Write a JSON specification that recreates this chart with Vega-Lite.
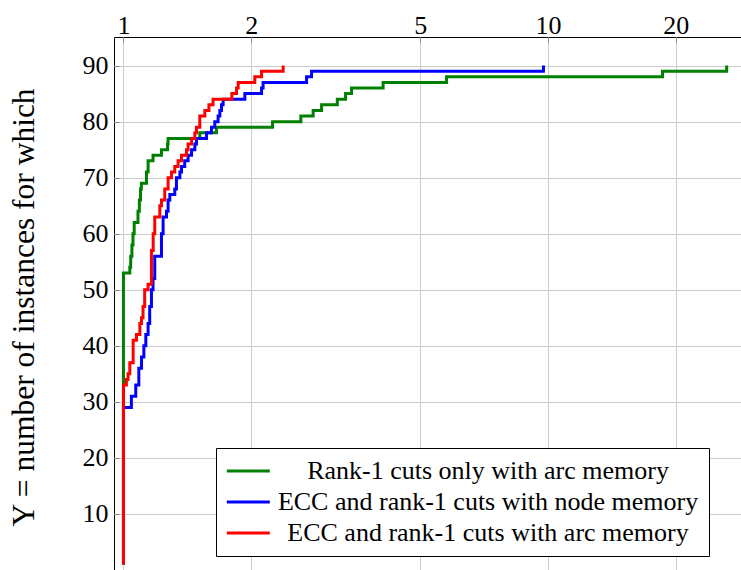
{
  "$schema": "https://vega.github.io/schema/vega-lite/v6.json",
  "width": 627,
  "height": 533,
  "autosize": {"type": "none"},
  "padding": {"left": 114, "top": 37, "right": 0, "bottom": 0},
  "background": "white",
  "config": {
    "view": {"stroke": "#000000", "strokeWidth": 1},
    "font": "serif"
  },
  "data": {
    "values": [
      {"s": "Rank-1 cuts only with arc memory", "x": 1, "y": 1}, {"s": "Rank-1 cuts only with arc memory", "x": 1, "y": 53},
      {"s": "Rank-1 cuts only with arc memory", "x": 1.035, "y": 54}, {"s": "Rank-1 cuts only with arc memory", "x": 1.04, "y": 56},
      {"s": "Rank-1 cuts only with arc memory", "x": 1.047, "y": 58}, {"s": "Rank-1 cuts only with arc memory", "x": 1.053, "y": 60},
      {"s": "Rank-1 cuts only with arc memory", "x": 1.06, "y": 62}, {"s": "Rank-1 cuts only with arc memory", "x": 1.082, "y": 64},
      {"s": "Rank-1 cuts only with arc memory", "x": 1.09, "y": 66}, {"s": "Rank-1 cuts only with arc memory", "x": 1.097, "y": 68},
      {"s": "Rank-1 cuts only with arc memory", "x": 1.102, "y": 69}, {"s": "Rank-1 cuts only with arc memory", "x": 1.133, "y": 71},
      {"s": "Rank-1 cuts only with arc memory", "x": 1.143, "y": 73}, {"s": "Rank-1 cuts only with arc memory", "x": 1.174, "y": 74},
      {"s": "Rank-1 cuts only with arc memory", "x": 1.229, "y": 75}, {"s": "Rank-1 cuts only with arc memory", "x": 1.27, "y": 76},
      {"s": "Rank-1 cuts only with arc memory", "x": 1.274, "y": 77}, {"s": "Rank-1 cuts only with arc memory", "x": 1.513, "y": 78},
      {"s": "Rank-1 cuts only with arc memory", "x": 1.656, "y": 79}, {"s": "Rank-1 cuts only with arc memory", "x": 2.245, "y": 80},
      {"s": "Rank-1 cuts only with arc memory", "x": 2.618, "y": 81}, {"s": "Rank-1 cuts only with arc memory", "x": 2.798, "y": 82},
      {"s": "Rank-1 cuts only with arc memory", "x": 2.929, "y": 83}, {"s": "Rank-1 cuts only with arc memory", "x": 3.19, "y": 84},
      {"s": "Rank-1 cuts only with arc memory", "x": 3.336, "y": 85}, {"s": "Rank-1 cuts only with arc memory", "x": 3.446, "y": 86},
      {"s": "Rank-1 cuts only with arc memory", "x": 4.09, "y": 87}, {"s": "Rank-1 cuts only with arc memory", "x": 5.77, "y": 88},
      {"s": "Rank-1 cuts only with arc memory", "x": 18.62, "y": 89}, {"s": "Rank-1 cuts only with arc memory", "x": 26.37, "y": 90},
      {"s": "ECC and rank-1 cuts with node memory", "x": 1, "y": 1}, {"s": "ECC and rank-1 cuts with node memory", "x": 1, "y": 29},
      {"s": "ECC and rank-1 cuts with node memory", "x": 1.044, "y": 31}, {"s": "ECC and rank-1 cuts with node memory", "x": 1.069, "y": 33},
      {"s": "ECC and rank-1 cuts with node memory", "x": 1.087, "y": 36}, {"s": "ECC and rank-1 cuts with node memory", "x": 1.103, "y": 38},
      {"s": "ECC and rank-1 cuts with node memory", "x": 1.117, "y": 40}, {"s": "ECC and rank-1 cuts with node memory", "x": 1.129, "y": 42},
      {"s": "ECC and rank-1 cuts with node memory", "x": 1.143, "y": 44}, {"s": "ECC and rank-1 cuts with node memory", "x": 1.153, "y": 47},
      {"s": "ECC and rank-1 cuts with node memory", "x": 1.164, "y": 50}, {"s": "ECC and rank-1 cuts with node memory", "x": 1.174, "y": 52},
      {"s": "ECC and rank-1 cuts with node memory", "x": 1.185, "y": 56}, {"s": "ECC and rank-1 cuts with node memory", "x": 1.229, "y": 60},
      {"s": "ECC and rank-1 cuts with node memory", "x": 1.24, "y": 63}, {"s": "ECC and rank-1 cuts with node memory", "x": 1.263, "y": 64},
      {"s": "ECC and rank-1 cuts with node memory", "x": 1.274, "y": 66}, {"s": "ECC and rank-1 cuts with node memory", "x": 1.286, "y": 67},
      {"s": "ECC and rank-1 cuts with node memory", "x": 1.321, "y": 68}, {"s": "ECC and rank-1 cuts with node memory", "x": 1.333, "y": 70},
      {"s": "ECC and rank-1 cuts with node memory", "x": 1.358, "y": 71}, {"s": "ECC and rank-1 cuts with node memory", "x": 1.37, "y": 72},
      {"s": "ECC and rank-1 cuts with node memory", "x": 1.394, "y": 73}, {"s": "ECC and rank-1 cuts with node memory", "x": 1.42, "y": 74},
      {"s": "ECC and rank-1 cuts with node memory", "x": 1.447, "y": 75}, {"s": "ECC and rank-1 cuts with node memory", "x": 1.473, "y": 76},
      {"s": "ECC and rank-1 cuts with node memory", "x": 1.486, "y": 77}, {"s": "ECC and rank-1 cuts with node memory", "x": 1.569, "y": 78},
      {"s": "ECC and rank-1 cuts with node memory", "x": 1.612, "y": 79}, {"s": "ECC and rank-1 cuts with node memory", "x": 1.641, "y": 80},
      {"s": "ECC and rank-1 cuts with node memory", "x": 1.671, "y": 81}, {"s": "ECC and rank-1 cuts with node memory", "x": 1.687, "y": 82},
      {"s": "ECC and rank-1 cuts with node memory", "x": 1.702, "y": 83}, {"s": "ECC and rank-1 cuts with node memory", "x": 1.717, "y": 84},
      {"s": "ECC and rank-1 cuts with node memory", "x": 1.932, "y": 85}, {"s": "ECC and rank-1 cuts with node memory", "x": 2.115, "y": 86},
      {"s": "ECC and rank-1 cuts with node memory", "x": 2.133, "y": 87}, {"s": "ECC and rank-1 cuts with node memory", "x": 2.7, "y": 88},
      {"s": "ECC and rank-1 cuts with node memory", "x": 2.774, "y": 89}, {"s": "ECC and rank-1 cuts with node memory", "x": 9.76, "y": 90},
      {"s": "ECC and rank-1 cuts with arc memory", "x": 1, "y": 1}, {"s": "ECC and rank-1 cuts with arc memory", "x": 1, "y": 33},
      {"s": "ECC and rank-1 cuts with arc memory", "x": 1.016, "y": 34}, {"s": "ECC and rank-1 cuts with arc memory", "x": 1.025, "y": 35},
      {"s": "ECC and rank-1 cuts with arc memory", "x": 1.035, "y": 37}, {"s": "ECC and rank-1 cuts with arc memory", "x": 1.054, "y": 41},
      {"s": "ECC and rank-1 cuts with arc memory", "x": 1.073, "y": 42}, {"s": "ECC and rank-1 cuts with arc memory", "x": 1.093, "y": 44},
      {"s": "ECC and rank-1 cuts with arc memory", "x": 1.103, "y": 45}, {"s": "ECC and rank-1 cuts with arc memory", "x": 1.112, "y": 47},
      {"s": "ECC and rank-1 cuts with arc memory", "x": 1.122, "y": 50}, {"s": "ECC and rank-1 cuts with arc memory", "x": 1.143, "y": 51},
      {"s": "ECC and rank-1 cuts with arc memory", "x": 1.164, "y": 57}, {"s": "ECC and rank-1 cuts with arc memory", "x": 1.175, "y": 60},
      {"s": "ECC and rank-1 cuts with arc memory", "x": 1.185, "y": 63}, {"s": "ECC and rank-1 cuts with arc memory", "x": 1.218, "y": 65},
      {"s": "ECC and rank-1 cuts with arc memory", "x": 1.229, "y": 66}, {"s": "ECC and rank-1 cuts with arc memory", "x": 1.251, "y": 68},
      {"s": "ECC and rank-1 cuts with arc memory", "x": 1.274, "y": 70}, {"s": "ECC and rank-1 cuts with arc memory", "x": 1.298, "y": 71},
      {"s": "ECC and rank-1 cuts with arc memory", "x": 1.321, "y": 72}, {"s": "ECC and rank-1 cuts with arc memory", "x": 1.345, "y": 73},
      {"s": "ECC and rank-1 cuts with arc memory", "x": 1.37, "y": 74}, {"s": "ECC and rank-1 cuts with arc memory", "x": 1.408, "y": 75},
      {"s": "ECC and rank-1 cuts with arc memory", "x": 1.42, "y": 76}, {"s": "ECC and rank-1 cuts with arc memory", "x": 1.447, "y": 77},
      {"s": "ECC and rank-1 cuts with arc memory", "x": 1.473, "y": 78}, {"s": "ECC and rank-1 cuts with arc memory", "x": 1.486, "y": 79},
      {"s": "ECC and rank-1 cuts with arc memory", "x": 1.513, "y": 81}, {"s": "ECC and rank-1 cuts with arc memory", "x": 1.555, "y": 82},
      {"s": "ECC and rank-1 cuts with arc memory", "x": 1.59, "y": 83}, {"s": "ECC and rank-1 cuts with arc memory", "x": 1.626, "y": 84},
      {"s": "ECC and rank-1 cuts with arc memory", "x": 1.8, "y": 85}, {"s": "ECC and rank-1 cuts with arc memory", "x": 1.847, "y": 86},
      {"s": "ECC and rank-1 cuts with arc memory", "x": 1.863, "y": 87}, {"s": "ECC and rank-1 cuts with arc memory", "x": 2.039, "y": 88},
      {"s": "ECC and rank-1 cuts with arc memory", "x": 2.115, "y": 89}, {"s": "ECC and rank-1 cuts with arc memory", "x": 2.378, "y": 90}
    ]
  },
  "mark": {"type": "line", "interpolate": "step-after", "strokeWidth": 3, "clip": true},
  "encoding": {
    "x": {
      "field": "x", "type": "quantitative",
      "scale": {"type": "log", "domain": [0.95, 28.5], "nice": false},
      "axis": {
        "orient": "top", "title": null, "values": [1, 2, 5, 10, 20], "format": "~g",
        "grid": true, "gridColor": "#cccccc", "gridWidth": 1, "domain": false,
        "ticks": true, "tickSize": -5, "tickColor": "#888888", "tickWidth": 1,
        "labelFont": "serif", "labelFontSize": 26, "labelColor": "#000000",
        "labelBaseline": "alphabetic", "labelPadding": 9, "labelFlush": false
      }
    },
    "y": {
      "field": "y", "type": "quantitative",
      "scale": {"domain": [0, 95.1], "nice": false, "zero": false},
      "axis": {
        "orient": "left", "values": [10, 20, 30, 40, 50, 60, 70, 80, 90],
        "grid": true, "gridColor": "#cccccc", "gridWidth": 1, "domain": false,
        "ticks": true, "tickSize": -5, "tickColor": "#888888", "tickWidth": 1,
        "labelFont": "serif", "labelFontSize": 26, "labelColor": "#000000",
        "labelPadding": 11, "labelBaseline": "middle", "labelFlush": false,
        "title": "Y = number of instances for which",
        "titleFont": "serif", "titleFontSize": 31.5, "titleFontWeight": "normal", "titleColor": "#000000",
        "titleAngle": 270, "titleX": -81, "titleY": 270, "titleAlign": "center", "titleBaseline": "alphabetic"
      }
    },
    "order": {"field": "y", "type": "quantitative"},
    "color": {
      "field": "s", "type": "nominal",
      "scale": {
        "domain": ["Rank-1 cuts only with arc memory", "ECC and rank-1 cuts with node memory", "ECC and rank-1 cuts with arc memory"],
        "range": ["#008000", "#0000ff", "#ff0000"]
      },
      "legend": {
        "title": null, "orient": "none", "legendX": 102, "legendY": 411, "direction": "vertical",
        "strokeColor": "#000000", "fillColor": "#ffffff", "padding": 10, "cornerRadius": 0,
        "symbolType": "M-2.26,0H5.72", "symbolSize": 116, "symbolStrokeWidth": 3,
        "labelFont": "serif", "labelFontSize": 26, "labelColor": "#000000",
        "labelAlign": "center", "labelOffset": 236, "labelLimit": 1000, "rowPadding": 5
      }
    }
  }
}
